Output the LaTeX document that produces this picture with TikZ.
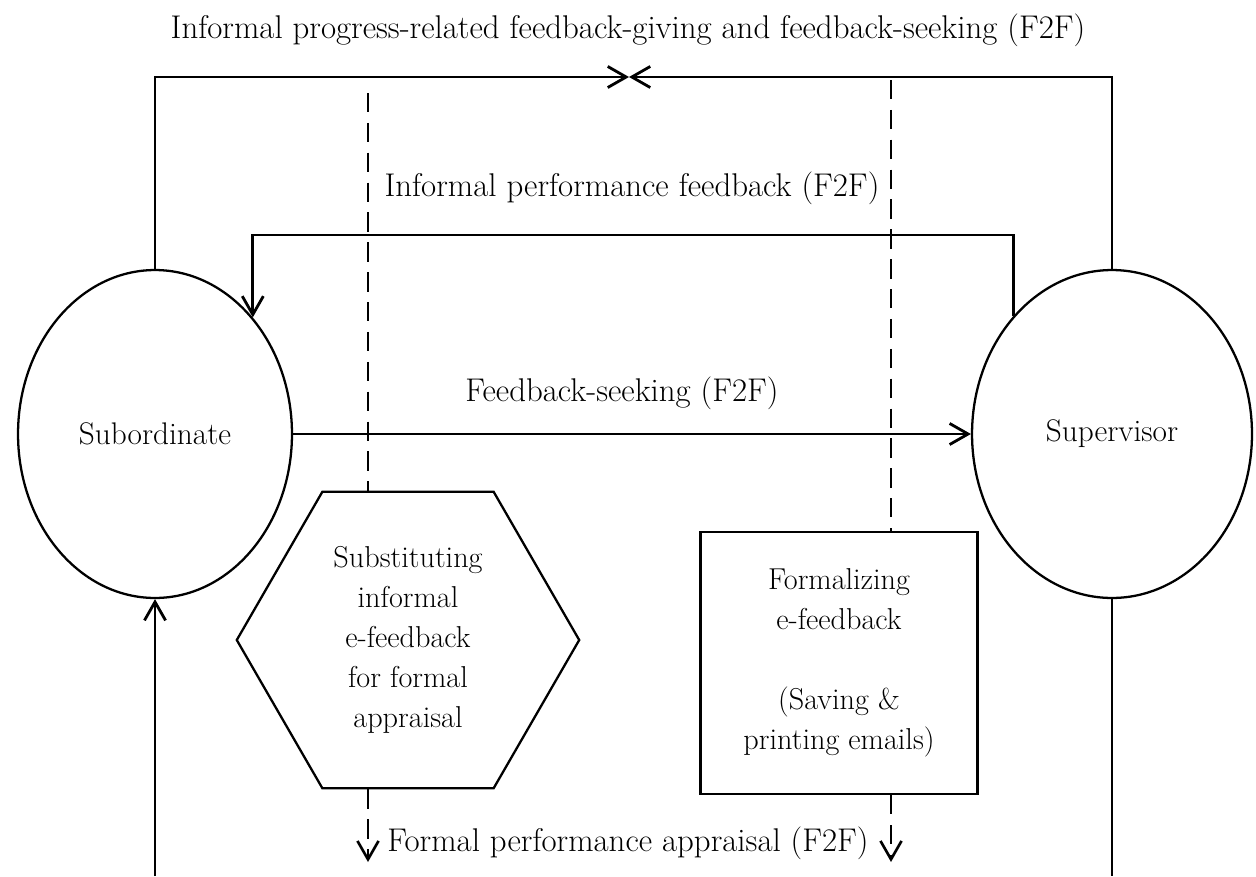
\documentclass[tikz,border=0pt]{standalone}
\usepackage{fontspec}
\usepackage{tikz}
\usetikzlibrary{shapes.geometric, arrows.meta}
\tikzset{
    party/.style={draw, ellipse, line width=1.3pt, minimum height=6.56cm, inner sep=0pt, font=\fontsize{17.8}{21}\selectfont},
    stage/.style={draw, line width=1.3pt, align=center, inner sep=0pt, font=\fontsize{17.2}{22.7}\selectfont},
    lbl/.style={font=\fontsize{18.7}{22}\selectfont},
    flow/.style={line width=1.6pt},
    trace/.style={line width=1.5pt, dash pattern=on 11pt off 6pt},
    >={Straight Barb[length=10.5pt,width=12pt]}
}

\begin{document}
\begin{tikzpicture}[x=0.02cm, y=-0.02cm]
        \useasboundingbox (0,0) rectangle (1256,876);
        % Title
        \node[lbl] (title) at (628,30) {Informal progress-related feedback-giving and feedback-seeking (F2F)};
        % The two parties
        \node[party, minimum width=5.48cm] (sub) at (155,434) {Subordinate};
        \node[party, minimum width=5.6cm] (sup) at (1112,434) {Supervisor};
        % Boxes in between
        \node[stage, regular polygon, regular polygon sides=6, minimum size=6.85cm] (hex) at (408,640)
            {Substituting\\informal\\e-feedback\\for formal\\appraisal};
        \node[stage, rectangle, minimum width=5.54cm, minimum height=5.24cm] (rect) at (839,663)
            {Formalizing\\e-feedback\\[0.8cm](Saving \&\\printing emails)};
        % Free ends
        \coordinate (mid) at (629,77);
        \coordinate (fbtop) at (630,235);
        \coordinate (dashL) at (368,93);
        \coordinate (dashR) at (891,80);
        \coordinate (appL) at (368,862);
        \coordinate (appR) at (891,862);
        \coordinate (inL) at (155,876);
        \coordinate (outR) at (1112,876);
        % Solid connectors
        \draw[flow, ->] (sub.north) |- (mid);
        \draw[flow, ->] (sup.north) |- (mid);
        \draw[flow, ->] (sup.130) |- (fbtop) -| (sub.50);
        \draw[flow, ->] (sub.east) -- (sup.west);
        \draw[flow, ->] (inL) -- (sub.south);
        \draw[flow] (sup.south) -- (outR);
        % Dashed connectors
        \draw[trace] (dashL) -- (dashL |- hex.north);
        \draw[trace] (dashR) -- (dashR |- rect.north);
        \draw[trace, ->] (appL |- hex.south) -- (appL);
        \draw[trace, ->] (appR |- rect.south) -- (appR);
        % Labels
        \node[lbl] (ipf) at (632,188) {Informal performance feedback (F2F)};
        \node[lbl] (fs) at (622,393) {Feedback-seeking (F2F)};
        \node[lbl] (fpa) at (628,843) {Formal performance appraisal (F2F)};
    \end{tikzpicture}
\end{document}
